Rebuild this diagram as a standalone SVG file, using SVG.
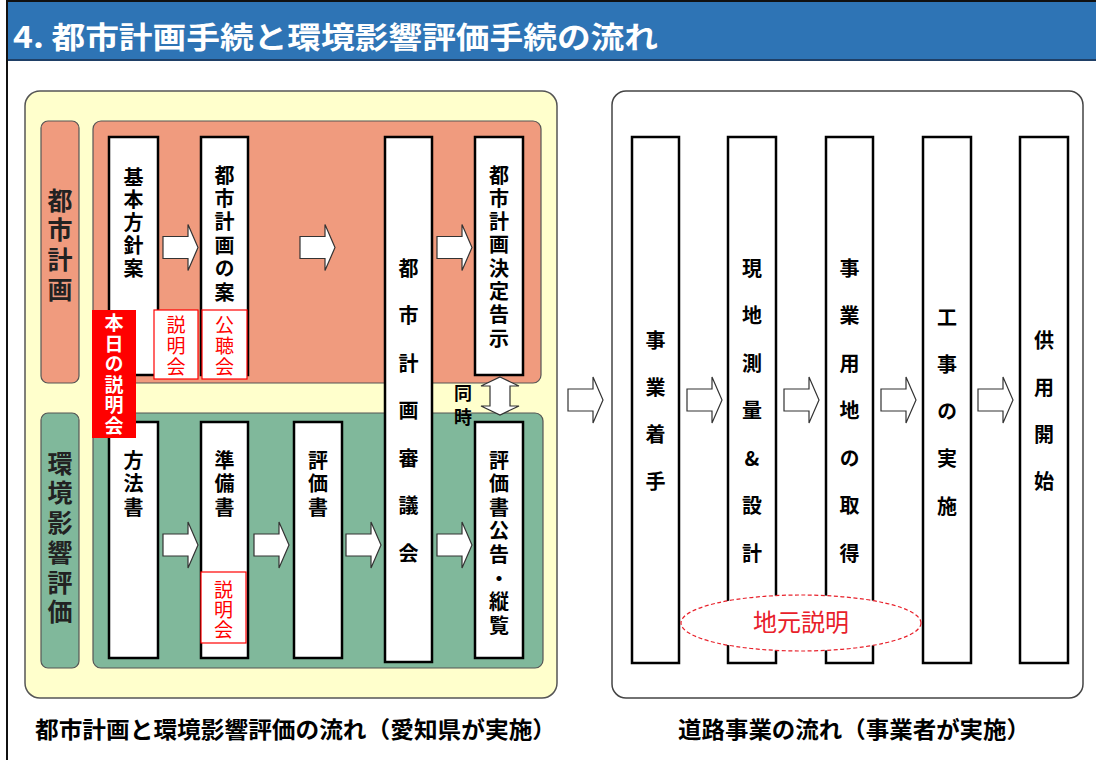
<svg xmlns="http://www.w3.org/2000/svg" width="1096" height="760" viewBox="0 0 1096 760">
<style>
text{font-family:"Noto Sans CJK JP","Noto Sans",sans-serif}
.v{writing-mode:vertical-rl;text-orientation:upright}
.bx{fill:#fff;stroke:#000;stroke-width:2.5}
.t{font-size:20px;font-weight:700;fill:#000}
.side{font-size:25px;font-weight:700;fill:#222}
.rb{fill:#fff;stroke:#ff0000;stroke-width:1.2}
.rt{font-size:19px;fill:#ff0000}
.arr{fill:#fff;stroke:#333;stroke-width:1.2}
.cap{font-size:23px;font-weight:700;fill:#000}
</style>
<defs>
<path id="ra" d="M0,-11 H25 V-23 L35,0 L25,23 V11 H0 Z"/>
</defs>
<rect x="0" y="0" width="1096" height="760" fill="#fff"/>
<g id="header">
<rect x="7" y="2" width="1092" height="58" fill="#2E74B5"/>
<line x1="7" y1="60" x2="1096" y2="60" stroke="#1F3F66" stroke-width="2"/>
<text x="13" y="48" font-size="30" font-weight="700" fill="#fff" textLength="645" lengthAdjust="spacingAndGlyphs">4. 都市計画手続と環境影響評価手続の流れ</text>
</g>
<rect x="7" y="1" width="1100" height="770" fill="none" stroke="#111" stroke-width="2"/>

<g id="panel-left">
<rect x="25" y="91" width="532" height="607" rx="15" fill="#FFFFCC" stroke="#555" stroke-width="1.5"/>
<rect x="41" y="121" width="38" height="262" rx="7" fill="#F09B7E" stroke="#555" stroke-width="1.2"/>
<rect x="93" y="121" width="448" height="262" rx="8" fill="#F09B7E" stroke="#555" stroke-width="1.2"/>
<rect x="41" y="413" width="38" height="255" rx="7" fill="#80B89B" stroke="#555" stroke-width="1.2"/>
<rect x="93" y="413" width="450" height="255" rx="8" fill="#80B89B" stroke="#555" stroke-width="1.2"/>
</g>
<g id="label-toshikeikaku">
<text class="side v" x="60" y="187.5" letter-spacing="4.7">都市計画</text>
</g>
<g id="label-kankyo">
<text class="side v" x="60" y="450.5" letter-spacing="4.8">環境影響評価</text>
</g>

<g id="node-kihon">
<rect class="bx" x="109" y="137" width="49" height="238"/>
<text class="t v" x="133.5" y="167" letter-spacing="2.75">基本方針案</text>
</g>
<g id="node-an">
<rect class="bx" x="201" y="137" width="47" height="238"/>
<text class="t v" x="224.5" y="165" letter-spacing="3.4">都市計画の案</text>
</g>
<g id="node-shingikai">
<rect class="bx" x="385" y="137" width="47" height="525"/>
<text class="t v" x="408.5" y="258" letter-spacing="27.5">都市計画審議会</text>
</g>
<g id="node-kettei">
<rect class="bx" x="475" y="137" width="48" height="238"/>
<text class="t v" x="499" y="165" letter-spacing="3.3">都市計画決定告示</text>
</g>
<g id="node-hohosho">
<rect class="bx" x="109" y="422" width="49" height="236"/>
<text class="t v" x="133.5" y="450" letter-spacing="3.5">方法書</text>
</g>
<g id="node-junbisho">
<rect class="bx" x="201" y="422" width="47" height="236"/>
<text class="t v" x="224.5" y="450" letter-spacing="3.5">準備書</text>
</g>
<g id="node-hyokasho">
<rect class="bx" x="294" y="422" width="48" height="236"/>
<text class="t v" x="318" y="450" letter-spacing="3.5">評価書</text>
</g>
<g id="node-koukoku">
<rect class="bx" x="475" y="422" width="48" height="236"/>
<text class="t v" x="499" y="450" letter-spacing="3.6">評価書公告・縦覧</text>
</g>
<g id="note-setsumeikai1">
<rect class="rb" x="154" y="310" width="44" height="69"/>
<text class="rt v" x="176" y="315.5" letter-spacing="2">説明会</text>
</g>
<g id="note-kochokai">
<rect class="rb" x="202" y="310" width="45" height="69"/>
<text class="rt v" x="224.5" y="315.5" letter-spacing="2">公聴会</text>
</g>
<g id="note-setsumeikai2">
<rect class="rb" x="201" y="572" width="45" height="71"/>
<text class="rt v" x="223.5" y="580.5" letter-spacing="1">説明会</text>
</g>
<g id="note-honjitsu">
<rect x="92" y="310" width="44" height="128" fill="#FF0000"/>
<text class="v" x="114" y="313.5" letter-spacing="1.5" style="font-size:19px;font-weight:700;fill:#fff">本日の説明会</text>
</g>
<g id="label-doji">
<text class="v" x="463" y="384" letter-spacing="6" style="font-size:18px;font-weight:700;fill:#000">同時</text>
</g>

<g id="panel-right">
<rect x="612" y="91" width="471" height="607" rx="14" fill="#fff" stroke="#444" stroke-width="1.5"/>
</g>
<g id="node-chakushu">
<rect class="bx" x="632" y="137" width="47" height="526"/>
<text class="t v" x="655.5" y="330" letter-spacing="27.3">事業着手</text>
</g>
<g id="node-sokuryo">
<rect class="bx" x="728" y="137" width="48" height="526"/>
<text class="t v" x="752" y="258" letter-spacing="27.5">現地測量&amp;設計</text>
</g>
<g id="node-yochi">
<rect class="bx" x="826" y="137" width="47" height="526"/>
<text class="t v" x="849.5" y="258" letter-spacing="27.5">事業用地の取得</text>
</g>
<g id="node-koji">
<rect class="bx" x="923" y="137" width="48" height="526"/>
<text class="t v" x="947" y="307" letter-spacing="27.25">工事の実施</text>
</g>
<g id="node-kyoyo">
<rect class="bx" x="1020" y="137" width="48" height="526"/>
<text class="t v" x="1044" y="330" letter-spacing="27.3">供用開始</text>
</g>
<g id="note-jimoto">
<ellipse cx="801" cy="623" rx="120" ry="28" fill="#fff" stroke="#E8202A" stroke-width="1.2" stroke-dasharray="4,2.5"/>
<text x="801" y="631" font-size="24" fill="#E8202A" text-anchor="middle">地元説明</text>
</g>

<g id="connectors">
<use href="#ra" class="arr" x="163" y="247.5"/>
<use href="#ra" class="arr" x="300" y="247.5"/>
<use href="#ra" class="arr" x="437" y="247.5"/>
<use href="#ra" class="arr" x="163" y="545"/>
<use href="#ra" class="arr" x="254" y="545"/>
<use href="#ra" class="arr" x="346" y="545"/>
<use href="#ra" class="arr" x="437" y="545"/>
<use href="#ra" class="arr" x="568" y="400"/>
<use href="#ra" class="arr" x="687" y="400"/>
<use href="#ra" class="arr" x="784" y="400"/>
<use href="#ra" class="arr" x="881" y="400"/>
<use href="#ra" class="arr" x="978" y="400"/>
<path class="arr" d="M500,377 L519,386 H510 V406 H519 L500,415 L481,406 H490 V386 H481 Z"/>
</g>

<g id="captions">
<text class="cap" x="35" y="738" textLength="521" lengthAdjust="spacingAndGlyphs">都市計画と環境影響評価の流れ（愛知県が実施）</text>
<text class="cap" x="678" y="738" textLength="352" lengthAdjust="spacingAndGlyphs">道路事業の流れ（事業者が実施）</text>
</g>
</svg>
